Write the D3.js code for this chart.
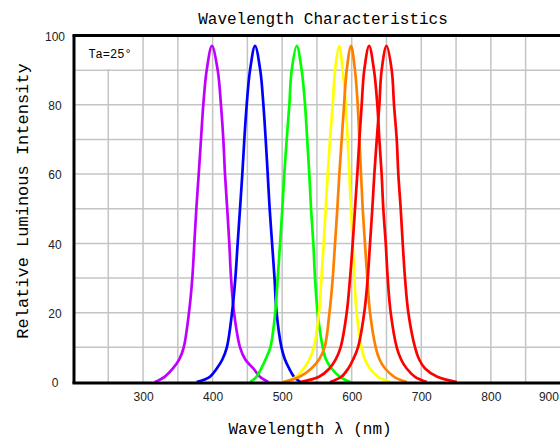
<!DOCTYPE html>
<html>
<head>
<meta charset="utf-8">
<script src="https://cdn.jsdelivr.net/npm/d3@7"></script>
<style>
body{margin:0;background:#fff}
svg{display:block;background:#fff}
.tick text{font-family:"Liberation Sans",Arial,sans-serif;font-size:12px;fill:#222}
</style>
</head>
<body>
<svg width="560" height="441"></svg>
<script>
// tick labels
const xTicks=[300,400,500,600,700,800,900];
const yTicks=[0,20,40,60,80,100];

// [wavelength nm, relative intensity %]
const violet=[[317,0],[331,1.5],[343,3.9],[352,6.5],[358.5,10],[366,20],[370.8,30],[373.7,40],[376.6,50],[380,60],[383.3,70],[386.6,80],[391.5,90],[399,97],
  [407.3,90],[412,80],[415.4,70],[417.8,60],[421,50],[424,40],[426.5,30],[430.8,20],[439.4,10],[447,6.5],[458.5,3.9],[468,1.5],[480,0]];
const blue=[[377,0],[396,1.5],[406,3.9],[414,6.5],[420.5,10],[427.9,20],[432.7,30],[436,40],[439.4,50],[442.7,60],[445.6,70],[449,80],[453.8,90],[461,97],
  [468.5,90],[473,80],[476.3,70],[479.2,60],[482,50],[485.5,40],[489,30],[492,20],[499,10],[504,6.5],[510,3.9],[517,1.5],[526,0]];
const green=[[454,0],[463,1.5],[470,3.9],[476,6.5],[483,10],[490,20],[493.6,30],[497,40],[500.2,50],[503,60],[506.5,70],[510.3,80],[513.7,90],[521,97],
  [528,90],[532.9,80],[536,70],[539,60],[541.5,50],[544.8,40],[547.2,30],[551,20],[558.3,10],[563,6.5],[571,3.9],[583,1.5],[598,0]];
const yellow=[[502,0],[520,1.5],[531,3.9],[539,6.5],[545.5,10],[553,20],[556.5,30],[559.7,40],[562.6,50],[565.5,60],[568.8,70],[572.7,80],[576,90],[582,97],
  [587,90],[591.4,80],[594.2,70],[596.6,60],[599,50],[601.4,40],[603.8,30],[607,20],[614,10],[619,6.5],[626,3.9],[638,1.5],[655,0]];
const orange=[[502,0],[525,1.5],[542,3.9],[553,6.5],[561,10],[568,20],[572.7,30],[576,40],[579.3,50],[582.2,60],[585.6,70],[589,80],[592.8,90],[599,97],
  [604.7,90],[608.6,80],[611,70],[613.4,60],[615.8,50],[619,40],[622.4,30],[626.3,20],[634.5,10],[640,6.5],[648,3.9],[661,1.5],[679,0]];
const red625=[[526,0],[553,1.5],[568,3.9],[577,6.5],[584,10],[592.8,20],[597.6,30],[601.4,40],[604.7,50],[608,60],[611,70],[614.3,80],[618,90],[625,97],
  [632,90],[636.8,80],[639.7,70],[643,60],[645.4,50],[648.9,40],[651.7,30],[656,20],[664.7,10],[671,6.5],[679,3.9],[691,1.5],[708,0]];
const red650=[[569,0],[585,1.5],[595,3.9],[602,6.5],[609,10],[618,20],[623,30],[626.3,40],[629.6,50],[632.5,60],[636,70],[639.7,80],[643,90],[650,97],
  [657.5,90],[660.8,80],[664.7,70],[667,60],[670.4,50],[673.3,40],[676.6,30],[681.4,20],[691,10],[697,6.5],[705.4,3.9],[723,1.5],[751,0]];

const seriesData=[violet,blue,green,yellow,orange,red625,red650];
const seriesColors=['#c000ff','#0000ff','#00ff00','#ffff00','#ff8000','#ff0000','#ff0000'];

const svg=d3.select('svg');
const width=+svg.attr('width');
const height=+svg.attr('height');

const x=d3.scaleLinear().domain([200,900]).range([73.5,560.4]);
const y=d3.scaleLinear().domain([0,100]).range([382,35.5]);

/* grid */
const grid=svg.append('g').attr('stroke','#c4c4c4').attr('stroke-width',1.5);
grid.selectAll('.vg').data(d3.range(250,900,50)).enter().append('line')
  .attr('x1',d=>x(d)).attr('x2',d=>x(d))
  .attr('y1',y(100)).attr('y2',y(0));
grid.selectAll('.hg').data(d3.range(10,100,10)).enter().append('line')
  .attr('x1',x(200)).attr('x2',width)
  .attr('y1',d=>y(d)).attr('y2',d=>y(d));

// white cell behind the temperature note
svg.append('rect')
  .attr('x',x(200)).attr('y',y(100))
  .attr('width',x(300)-x(200)-1).attr('height',y(90)-y(100)-1)
  .attr('fill','#fff');
svg.append('text')
  .attr('x',110).attr('y',58)
  .attr('text-anchor','middle')
  .style('font-family','"Liberation Mono",monospace')
  .style('font-size','12px')
  .text('Ta=25°');

/* curves */
const line=d3.line()
  .x(d=>x(d[0]))
  .y(d=>Math.min(y(d[1]),y(0)))
  .curve(d3.curveCatmullRom.alpha(0.5));

svg.append('g').selectAll('path')
  .data(seriesData)
  .enter()
  .append('path')
  .attr('d',line)
  .attr('fill','none')
  .attr('stroke',(d,i)=>seriesColors[i])
  .attr('stroke-width',2.7)
  .attr('stroke-linejoin','round');

/* frame lines */
const frame=svg.append('g').attr('stroke','#000').attr('stroke-width',3);
frame.append('line').attr('x1',74).attr('x2',74).attr('y1',y(100)).attr('y2',y(0)+1.5);
frame.append('line').attr('x1',72.5).attr('x2',width).attr('y1',y(100)).attr('y2',y(100));
frame.append('line').attr('x1',72.5).attr('x2',width).attr('y1',y(0)+1).attr('y2',y(0)+1);

/* axes labels */
const xAxis=d3.axisBottom(x).tickValues(xTicks).tickSize(0).tickPadding(10).tickFormat(d3.format('d'));
svg.append('g')
  .attr('transform',`translate(0,${y(0)})`)
  .call(xAxis)
  .call(g=>g.select('.domain').remove())
  .selectAll('text')
  .attr('dx',d=>d===900?-12:0);   // last label sits at the right edge

const yAxis=d3.axisLeft(y).tickValues(yTicks).tickSize(0).tickFormat(d3.format('d'));
svg.append('g')
  .attr('transform','translate(55,1)')
  .call(yAxis)
  .call(g=>g.select('.domain').remove())
  .selectAll('text').attr('text-anchor','middle').attr('x',0);

/* titles */
svg.append('text')
  .attr('x',323).attr('y',24)
  .attr('text-anchor','middle')
  .style('font-family','"Liberation Mono",monospace')
  .style('font-size','16px')
  .text('Wavelength Characteristics');

svg.append('text')
  .attr('x',310).attr('y',434)
  .attr('text-anchor','middle')
  .style('font-family','"Liberation Mono",monospace')
  .style('font-size','16px')
  .text('Wavelength λ (nm)');

svg.append('text')
  .attr('transform','translate(28,201)rotate(-90)')
  .attr('text-anchor','middle')
  .style('font-family','"Liberation Mono",monospace')
  .style('font-size','17px')
  .text('Relative Luminous Intensity');
</script>
</body>
</html>
